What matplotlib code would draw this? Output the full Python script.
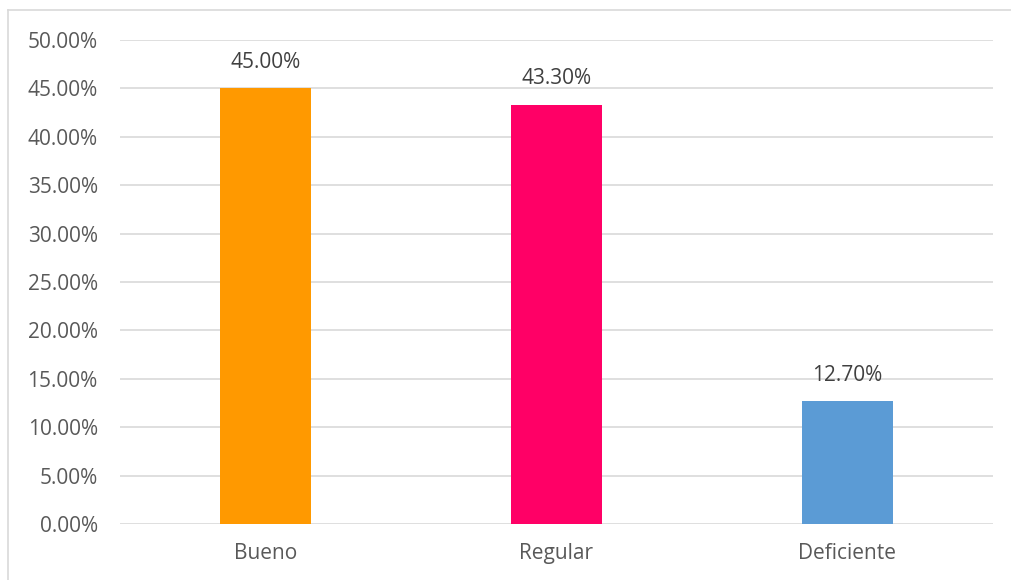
from matplotlib import pyplot as plt
from matplotlib.lines import Line2D
from matplotlib.ticker import FuncFormatter

categorias = ["Bueno", "Regular", "Deficiente"]
valores = [45.0, 43.3, 12.7]
colores = ["#FF9900", "#FF0066", "#5B9BD5"]

plt.rcParams['font.family'] = ['Open Sans', 'DejaVu Sans']

fig = plt.figure(figsize=(10.12, 5.8), dpi=100)
ax = fig.add_axes([120/1012, 1-524/580, (993-120)/1012, (524-40)/580])

x = range(len(categorias))
ax.bar(x, valores, width=0.316, color=colores, zorder=3)
for i, v in zip(x, valores):
    ax.text(i, v + 1.6, "{:.2f}%".format(v), ha='center', va='bottom',
            fontsize=15, color='#404040')

ax.set_xlim(-0.5, 2.5)
ax.set_ylim(0, 50)
ax.set_yticks([i * 5 for i in range(11)])
ax.yaxis.set_major_formatter(FuncFormatter(lambda v, p: "{:.2f}%".format(v)))
ax.set_xticks(list(x))
ax.set_xticklabels(categorias)
ax.tick_params(axis='both', length=0, labelsize=15, colors='#595959')
ax.tick_params(axis='y', pad=16)
ax.tick_params(axis='x', pad=14)
ax.grid(axis='y', color='#D9D9D9', linewidth=1.2, zorder=0)
for s in ax.spines.values():
    s.set_visible(False)

# borde del gráfico (solo izquierda y arriba visibles)
yb = 1 - 10/580
xb = 8/1012
fig.add_artist(Line2D([xb, xb], [0, yb], transform=fig.transFigure,
                      color='#D9D9D9', linewidth=1.2))
fig.add_artist(Line2D([xb, 1.05], [yb, yb], transform=fig.transFigure,
                      color='#D9D9D9', linewidth=1.2))

plt.savefig('out.png', dpi=100)
plt.close('all')
